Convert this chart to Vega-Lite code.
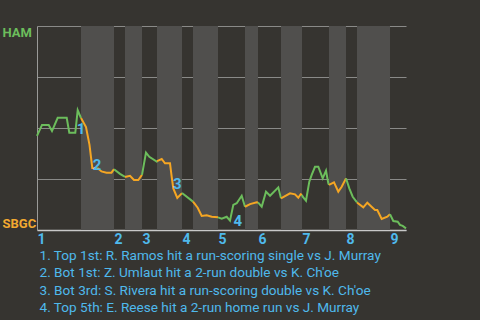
{
  "$schema": "https://vega.github.io/schema/vega-lite/v6.json",
  "width": 369,
  "height": 204,
  "autosize": "none",
  "padding": {"left": 37, "top": 26, "right": 74, "bottom": 90},
  "background": "#363430",
  "config": {
    "view": {"stroke": null},
    "font": "Roboto"
  },
  "datasets": {
    "bands": [
      {"start": 44, "end": 77}, {"start": 88, "end": 105}, {"start": 120, "end": 145},
      {"start": 156, "end": 181}, {"start": 208, "end": 221}, {"start": 244, "end": 265},
      {"start": 292, "end": 309}, {"start": 320, "end": 353}
    ],
    "wp": [
      {"t": 0, "v": 0.461, "seg": 1, "team": "HAM"},
      {"t": 5, "v": 0.515, "seg": 1, "team": "HAM"},
      {"t": 11.7, "v": 0.515, "seg": 1, "team": "HAM"},
      {"t": 15, "v": 0.485, "seg": 1, "team": "HAM"},
      {"t": 20.7, "v": 0.55, "seg": 1, "team": "HAM"},
      {"t": 29.7, "v": 0.55, "seg": 1, "team": "HAM"},
      {"t": 32.3, "v": 0.477, "seg": 1, "team": "HAM"},
      {"t": 38.3, "v": 0.477, "seg": 1, "team": "HAM"},
      {"t": 40.7, "v": 0.587, "seg": 1, "team": "HAM"},
      {"t": 44, "v": 0.549, "seg": 1, "team": "HAM"},
      {"t": 44, "v": 0.549, "seg": 2, "team": "SBGC"},
      {"t": 49, "v": 0.505, "seg": 2, "team": "SBGC"},
      {"t": 52.5, "v": 0.417, "seg": 2, "team": "SBGC"},
      {"t": 55.3, "v": 0.304, "seg": 2, "team": "SBGC"},
      {"t": 61, "v": 0.302, "seg": 2, "team": "SBGC"},
      {"t": 64.5, "v": 0.287, "seg": 2, "team": "SBGC"},
      {"t": 69.5, "v": 0.281, "seg": 2, "team": "SBGC"},
      {"t": 74.5, "v": 0.281, "seg": 2, "team": "SBGC"},
      {"t": 77, "v": 0.298, "seg": 2, "team": "SBGC"},
      {"t": 77, "v": 0.298, "seg": 3, "team": "HAM"},
      {"t": 83, "v": 0.275, "seg": 3, "team": "HAM"},
      {"t": 88, "v": 0.26, "seg": 3, "team": "HAM"},
      {"t": 88, "v": 0.26, "seg": 4, "team": "SBGC"},
      {"t": 93, "v": 0.266, "seg": 4, "team": "SBGC"},
      {"t": 97, "v": 0.245, "seg": 4, "team": "SBGC"},
      {"t": 101.3, "v": 0.245, "seg": 4, "team": "SBGC"},
      {"t": 105, "v": 0.27, "seg": 4, "team": "SBGC"},
      {"t": 105, "v": 0.27, "seg": 5, "team": "HAM"},
      {"t": 109, "v": 0.379, "seg": 5, "team": "HAM"},
      {"t": 112.3, "v": 0.359, "seg": 5, "team": "HAM"},
      {"t": 119.7, "v": 0.335, "seg": 5, "team": "HAM"},
      {"t": 120, "v": 0.338, "seg": 5, "team": "HAM"},
      {"t": 120, "v": 0.338, "seg": 6, "team": "SBGC"},
      {"t": 124.7, "v": 0.348, "seg": 6, "team": "SBGC"},
      {"t": 128, "v": 0.327, "seg": 6, "team": "SBGC"},
      {"t": 133, "v": 0.327, "seg": 6, "team": "SBGC"},
      {"t": 134.7, "v": 0.26, "seg": 6, "team": "SBGC"},
      {"t": 136.3, "v": 0.204, "seg": 6, "team": "SBGC"},
      {"t": 140.3, "v": 0.157, "seg": 6, "team": "SBGC"},
      {"t": 145, "v": 0.181, "seg": 6, "team": "SBGC"},
      {"t": 145, "v": 0.181, "seg": 7, "team": "HAM"},
      {"t": 156, "v": 0.139, "seg": 7, "team": "HAM"},
      {"t": 156, "v": 0.139, "seg": 8, "team": "SBGC"},
      {"t": 160.7, "v": 0.109, "seg": 8, "team": "SBGC"},
      {"t": 164.7, "v": 0.069, "seg": 8, "team": "SBGC"},
      {"t": 169.7, "v": 0.072, "seg": 8, "team": "SBGC"},
      {"t": 174.7, "v": 0.065, "seg": 8, "team": "SBGC"},
      {"t": 181, "v": 0.062, "seg": 8, "team": "SBGC"},
      {"t": 181, "v": 0.062, "seg": 9, "team": "HAM"},
      {"t": 184.7, "v": 0.056, "seg": 9, "team": "HAM"},
      {"t": 189.7, "v": 0.065, "seg": 9, "team": "HAM"},
      {"t": 193, "v": 0.046, "seg": 9, "team": "HAM"},
      {"t": 196.3, "v": 0.123, "seg": 9, "team": "HAM"},
      {"t": 199.7, "v": 0.131, "seg": 9, "team": "HAM"},
      {"t": 204.7, "v": 0.168, "seg": 9, "team": "HAM"},
      {"t": 208, "v": 0.114, "seg": 9, "team": "HAM"},
      {"t": 208, "v": 0.114, "seg": 10, "team": "SBGC"},
      {"t": 213, "v": 0.127, "seg": 10, "team": "SBGC"},
      {"t": 219.7, "v": 0.136, "seg": 10, "team": "SBGC"},
      {"t": 221, "v": 0.135, "seg": 10, "team": "SBGC"},
      {"t": 221, "v": 0.135, "seg": 11, "team": "HAM"},
      {"t": 224.7, "v": 0.114, "seg": 11, "team": "HAM"},
      {"t": 229, "v": 0.188, "seg": 11, "team": "HAM"},
      {"t": 233, "v": 0.168, "seg": 11, "team": "HAM"},
      {"t": 241.3, "v": 0.209, "seg": 11, "team": "HAM"},
      {"t": 244, "v": 0.155, "seg": 11, "team": "HAM"},
      {"t": 244, "v": 0.155, "seg": 12, "team": "SBGC"},
      {"t": 253, "v": 0.18, "seg": 12, "team": "SBGC"},
      {"t": 258, "v": 0.175, "seg": 12, "team": "SBGC"},
      {"t": 261.3, "v": 0.158, "seg": 12, "team": "SBGC"},
      {"t": 263.7, "v": 0.175, "seg": 12, "team": "SBGC"},
      {"t": 265, "v": 0.172, "seg": 12, "team": "SBGC"},
      {"t": 265, "v": 0.172, "seg": 13, "team": "HAM"},
      {"t": 265.7, "v": 0.163, "seg": 13, "team": "HAM"},
      {"t": 269, "v": 0.144, "seg": 13, "team": "HAM"},
      {"t": 272.3, "v": 0.237, "seg": 13, "team": "HAM"},
      {"t": 274.7, "v": 0.27, "seg": 13, "team": "HAM"},
      {"t": 278, "v": 0.31, "seg": 13, "team": "HAM"},
      {"t": 281.3, "v": 0.31, "seg": 13, "team": "HAM"},
      {"t": 285.7, "v": 0.253, "seg": 13, "team": "HAM"},
      {"t": 289, "v": 0.291, "seg": 13, "team": "HAM"},
      {"t": 291.3, "v": 0.229, "seg": 13, "team": "HAM"},
      {"t": 292, "v": 0.221, "seg": 13, "team": "HAM"},
      {"t": 292, "v": 0.221, "seg": 14, "team": "SBGC"},
      {"t": 297, "v": 0.234, "seg": 14, "team": "SBGC"},
      {"t": 301.3, "v": 0.188, "seg": 14, "team": "SBGC"},
      {"t": 304.7, "v": 0.212, "seg": 14, "team": "SBGC"},
      {"t": 309, "v": 0.253, "seg": 14, "team": "SBGC"},
      {"t": 309, "v": 0.253, "seg": 15, "team": "HAM"},
      {"t": 312.3, "v": 0.204, "seg": 15, "team": "HAM"},
      {"t": 315.7, "v": 0.163, "seg": 15, "team": "HAM"},
      {"t": 320, "v": 0.135, "seg": 15, "team": "HAM"},
      {"t": 320, "v": 0.135, "seg": 16, "team": "SBGC"},
      {"t": 326.3, "v": 0.111, "seg": 16, "team": "SBGC"},
      {"t": 330.3, "v": 0.134, "seg": 16, "team": "SBGC"},
      {"t": 338, "v": 0.098, "seg": 16, "team": "SBGC"},
      {"t": 340.3, "v": 0.098, "seg": 16, "team": "SBGC"},
      {"t": 344.7, "v": 0.054, "seg": 16, "team": "SBGC"},
      {"t": 350.3, "v": 0.065, "seg": 16, "team": "SBGC"},
      {"t": 353, "v": 0.077, "seg": 16, "team": "SBGC"},
      {"t": 353, "v": 0.077, "seg": 17, "team": "HAM"},
      {"t": 356.3, "v": 0.044, "seg": 17, "team": "HAM"},
      {"t": 360.7, "v": 0.041, "seg": 17, "team": "HAM"},
      {"t": 363, "v": 0.025, "seg": 17, "team": "HAM"},
      {"t": 365.7, "v": 0.02, "seg": 17, "team": "HAM"},
      {"t": 369, "v": 0.008, "seg": 17, "team": "HAM"}
    ],
    "notes": [
      {"t": 44, "v": 0.495, "label": "1"},
      {"t": 60, "v": 0.319, "label": "2"},
      {"t": 140.3, "v": 0.225, "label": "3"},
      {"t": 200.7, "v": 0.046, "label": "4"}
    ]
  },
  "layer": [
    {
      "data": {"name": "bands"},
      "mark": {"type": "rect", "color": "#504f4d"},
      "encoding": {
        "x": {
          "field": "start", "type": "quantitative",
          "scale": {"domain": [0, 369], "nice": false, "zero": false},
          "axis": {
            "values": [0, 77, 105, 145, 181, 221, 265, 309, 353],
            "labelExpr": "'' + (indexof([0, 77, 105, 145, 181, 221, 265, 309, 353], datum.value) + 1)",
            "labelAlign": "left",
            "labelBaseline": "top",
            "labelPadding": 2,
            "labelColor": "#4fb9ec",
            "labelFont": "Roboto",
            "labelFontWeight": "bold",
            "labelFontSize": 14,
            "labelFlush": false,
            "labelOverlap": false,
            "ticks": false,
            "grid": false,
            "domainColor": "#c8c8c8",
            "domainWidth": 1.5,
            "title": [
              "1. Top 1st: R. Ramos hit a run-scoring single vs J. Murray",
              "2. Bot 1st: Z. Umlaut hit a 2-run double vs K. Ch'oe",
              "3. Bot 3rd: S. Rivera hit a run-scoring double vs K. Ch'oe",
              "4. Top 5th: E. Reese hit a 2-run home run vs J. Murray"
            ],
            "titleAnchor": "start",
            "titleAlign": "left",
            "titleBaseline": "top",
            "titleX": 2,
            "titleY": 18,
            "titleColor": "#4fb9ec",
            "titleFont": "Roboto",
            "titleFontWeight": "normal",
            "titleFontSize": 13.6,
            "titleLineHeight": 17.6
          }
        },
        "x2": {"field": "end"},
        "y": {"datum": 0, "type": "quantitative",
          "scale": {"domain": [0, 1], "nice": false, "zero": false},
          "axis": {
            "values": [0, 0.25, 0.5, 0.75, 1],
            "labelExpr": "datum.value == 1 ? 'HAM' : datum.value == 0 ? 'SBGC' : ''",
            "labelFlush": true,
            "labelAlign": "left",
            "labelPadding": 35,
            "labelColor": {"condition": {"test": "datum.value == 1", "value": "#6cbd5c"}, "value": "#f2a930"},
            "labelFont": "Roboto",
            "labelFontWeight": "bold",
            "labelFontSize": 13,
            "ticks": false,
            "grid": true,
            "gridColor": "#8a8a88",
            "gridWidth": 1,
            "domainColor": "#9a9a98",
            "domainWidth": 1,
            "title": null
          }
        },
        "y2": {"datum": 1}
      }
    },
    {
      "data": {"name": "wp"},
      "mark": {"type": "line", "strokeWidth": 2, "interpolate": "linear"},
      "encoding": {
        "x": {"field": "t", "type": "quantitative"},
        "y": {"field": "v", "type": "quantitative"},
        "detail": {"field": "seg", "type": "nominal"},
        "order": {"field": "t", "type": "quantitative"},
        "color": {
          "field": "team", "type": "nominal",
          "scale": {"domain": ["HAM", "SBGC"], "range": ["#6cbd5c", "#f5a623"]},
          "legend": null
        }
      }
    },
    {
      "data": {"name": "notes"},
      "mark": {"type": "text", "color": "#4fb9ec", "font": "Roboto", "fontWeight": "bold", "fontSize": 15, "align": "center", "baseline": "middle"},
      "encoding": {
        "x": {"field": "t", "type": "quantitative"},
        "y": {"field": "v", "type": "quantitative"},
        "text": {"field": "label"}
      }
    }
  ]
}
